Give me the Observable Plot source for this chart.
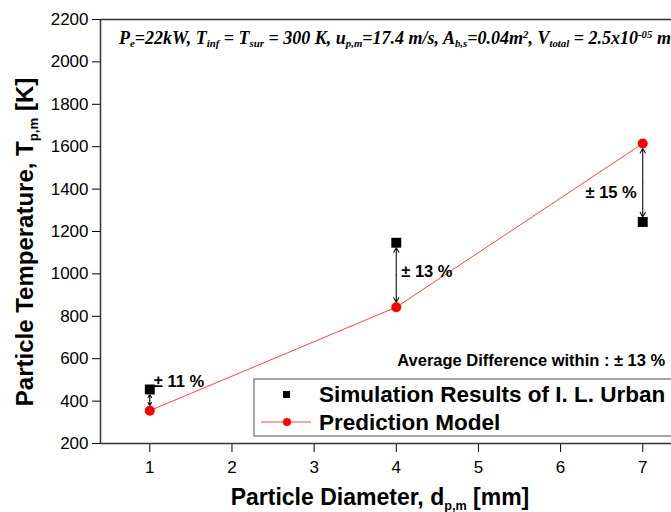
<!DOCTYPE html>
<html><head><meta charset="utf-8">
<script src="https://cdn.jsdelivr.net/npm/d3@7"></script>
<script src="https://cdn.jsdelivr.net/npm/@observablehq/plot@0.6"></script>
<style>body{margin:0;background:#fff;} svg{display:block;}</style>
</head><body><div id="chart"></div>
<script>
// ---- data ----
const diameters = [1, 4, 7];
const simulation = [455, 1147, 1245];
const prediction = [355, 843, 1615];
const differenceLabels = ["± 11 %", "± 13 %", "± 15 %"];
const xTicks = [1, 2, 3, 4, 5, 6, 7];
const yTicks = [200, 400, 600, 800, 1000, 1200, 1400, 1600, 1800, 2000, 2200];
const seriesNames = ["Simulation Results of I. L. Urban", "Prediction Model"];
const averageNote = "Average Difference within : ± 13 %";
const averageValue = 590;

const rows = diameters.map((d, i) => ({
  d, sim: simulation[i], pred: prediction[i],
  mid: (simulation[i] + prediction[i]) / 2, label: differenceLabels[i]
}));

const axisColor = "#333";
const plot = Plot.plot({
  width: 671, height: 512,
  marginLeft: 100, marginRight: 0, marginTop: 19, marginBottom: 69,
  style: {fontFamily: "'Liberation Sans', Arial, sans-serif", fontSize: "17px", color: "#000", background: "#fff"},
  x: {domain: [0.4, 7.35]},
  y: {domain: [200, 2200]},
  marks: [
    Plot.axisY({ticks: yTicks, tickFormat: d3.format("d"), tickSize: 8, tickPadding: 4, label: null, fontSize: 17}),
    Plot.axisX({ticks: xTicks, tickFormat: d3.format("d"), tickSize: 9, tickPadding: 8, label: null, fontSize: 17}),
    Plot.ruleY([2200], {stroke: axisColor, strokeWidth: 1.5}),
    Plot.ruleY([200], {stroke: axisColor, strokeWidth: 1.5}),
    Plot.ruleX([0.4], {stroke: axisColor, strokeWidth: 1.5}),
    Plot.line(rows, {x: "d", y: "pred", stroke: "#ff4444", strokeWidth: 1}),
    Plot.arrow(rows, {x1: "d", x2: "d", y1: "mid", y2: "sim", insetEnd: 5, headLength: 7, stroke: "#111", strokeWidth: 1.1}),
    Plot.arrow(rows, {x1: "d", x2: "d", y1: "mid", y2: "pred", insetEnd: 5, headLength: 7, stroke: "#111", strokeWidth: 1.1}),
    Plot.dot(rows, {x: "d", y: "sim", symbol: "square", r: 5.6, fill: "#000", stroke: "none"}),
    Plot.dot(rows, {x: "d", y: "pred", r: 5, fill: "#ff0000", stroke: "none"}),
    Plot.text([rows[0]], {x: "d", y: "sim", text: "label", textAnchor: "start", dx: 4, dy: -8, fontWeight: "bold", fontSize: 16.5}),
    Plot.text([rows[1]], {x: "d", y: "mid", text: "label", textAnchor: "start", dx: 5, dy: -3, fontWeight: "bold", fontSize: 16.5}),
    Plot.text([rows[2]], {x: "d", y: "mid", text: "label", textAnchor: "end", dx: -6, dy: 10, fontWeight: "bold", fontSize: 16.5}),
    Plot.text([averageNote], {x: 4, y: averageValue, text: d => d, textAnchor: "start", dx: 1, fontWeight: "bold", fontSize: 16.5})
  ]
});
document.getElementById("chart").appendChild(plot);

// ---- rich text (sub/superscripts) and legend ----
const svg = d3.select(plot);
function rich(g, parts, subScale = 0.6, subShift = "-28%") {
  parts.forEach(p => {
    const s = g.append("tspan").text(p.t);
    if (p.sub) s.attr("font-size", subScale + "em").attr("baseline-shift", subShift);
    if (p.sup) s.attr("font-size", "0.6em").attr("baseline-shift", "55%");
  });
}
// Top annotation
const noteTop = svg.append("text").attr("x", 119).attr("y", 44).attr("text-anchor", "start")
  .attr("font-family", "'Liberation Serif', 'Times New Roman', serif")
  .attr("font-weight", "bold").attr("font-style", "italic").attr("font-size", 18).attr("fill", "#000");
rich(noteTop, [
  {t: "P"}, {t: "e", sub: 1}, {t: "=22kW, T"}, {t: "inf", sub: 1}, {t: " = T"}, {t: "sur", sub: 1},
  {t: " = 300 K, u"}, {t: "p,m", sub: 1}, {t: "=17.4 m/s, A"}, {t: "b,s", sub: 1}, {t: "=0.04m"}, {t: "2", sup: 1},
  {t: ", V"}, {t: "total", sub: 1}, {t: " = 2.5x10"}, {t: "-05", sup: 1}, {t: " m"}, {t: "3", sup: 1}
]);
// Axis titles
const xTitle = svg.append("text").attr("x", 380).attr("y", 505).attr("text-anchor", "middle")
  .attr("font-weight", "bold").attr("font-size", 23).attr("fill", "#000");
rich(xTitle, [{t: "Particle Diameter, d"}, {t: "p,m", sub: 1}, {t: " [mm]"}], 0.55, "-40%");
const yTitle = svg.append("text").attr("transform", "translate(33,242) rotate(-90)").attr("text-anchor", "middle")
  .attr("font-weight", "bold").attr("font-size", 24).attr("fill", "#000");
rich(yTitle, [{t: "Particle Temperature, T"}, {t: "p,m", sub: 1}, {t: " [K]"}], 0.55, "-40%");

// Legend
const lg = svg.append("g").attr("text-anchor", "start");
lg.append("rect").attr("x", 254).attr("y", 379).attr("width", 430).attr("height", 57)
  .attr("fill", "#fff").attr("stroke", "#8a8a8a").attr("stroke-width", 1.5);
lg.append("rect").attr("x", 283).attr("y", 391).attr("width", 7).attr("height", 7).attr("fill", "#000");
lg.append("line").attr("x1", 261).attr("x2", 311).attr("y1", 422).attr("y2", 422).attr("stroke", "#ff4444").attr("stroke-width", 1);
lg.append("circle").attr("cx", 287).attr("cy", 422).attr("r", 4).attr("fill", "#ff0000");
lg.append("text").attr("x", 319).attr("y", 402).attr("font-weight", "bold").attr("font-size", 22.5).attr("fill", "#000").text(seriesNames[0]);
lg.append("text").attr("x", 319).attr("y", 430).attr("font-weight", "bold").attr("font-size", 22.5).attr("fill", "#000").text(seriesNames[1]);
</script>
</body></html>
